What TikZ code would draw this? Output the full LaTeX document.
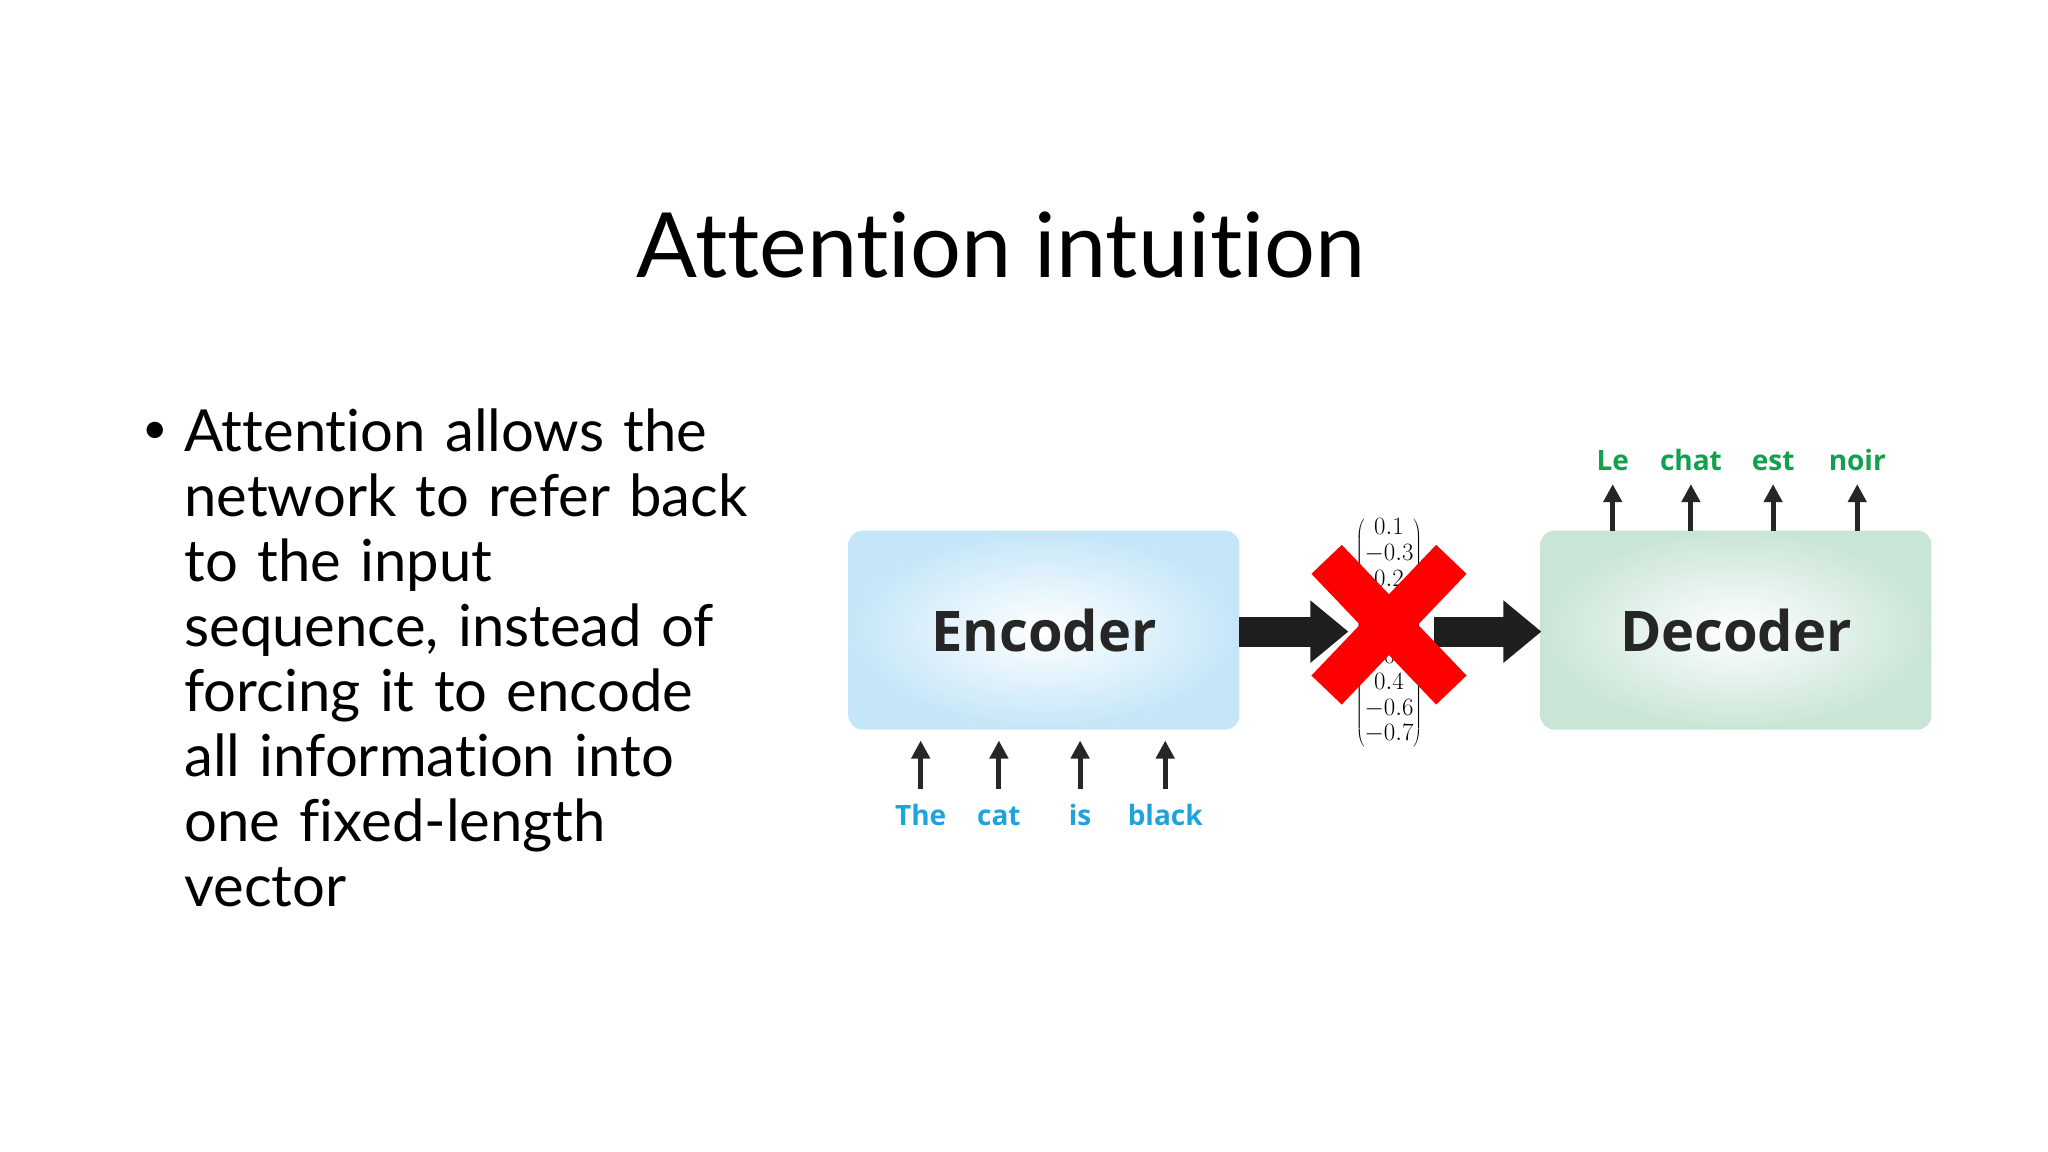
\documentclass[tikz,border=0pt]{standalone}
\usepackage{fontspec}
\setmainfont{Lato}[Ligatures={NoCommon}]
\newfontfamily\bfs{Open Sans}
\usetikzlibrary{arrows.meta}
\definecolor{inblue}{HTML}{1FA3DC}
\definecolor{outgreen}{HTML}{12A04E}
\definecolor{encb}{HTML}{C4E6F8}
\definecolor{decg}{HTML}{C9E5D6}
\begin{document}
\begin{tikzpicture}[x=0.99pt,y=-0.99pt,
  box/.style={rounded corners=14pt,minimum width=391pt,minimum height=199pt,inner sep=0},
  small/.style={-{Triangle[length=18pt,width=18pt]},line width=5pt,black!85},
  big/.style={-{Triangle[length=38pt,width=60pt]},line width=30pt,black!88},
  word/.style={font=\bfs\bfseries\fontsize{28}{28}\selectfont,anchor=base}]
\useasboundingbox (0,0) rectangle (2068.7,1163.6);
\node[font=\fontsize{90}{90}\selectfont,anchor=base] (title) at (1011,280) {Attention intuition};
\node[font=\fontsize{58}{65}\selectfont,anchor=north west,align=left,text width=620pt,inner sep=0] (txt) at (186,413)
 {Attention allows the\\network to refer back\\to the input\\sequence, instead of\\forcing it to encode\\all information into\\one fixed-length\\vector};
\node[font=\fontsize{44}{44}\selectfont] (bul) at (157,437) {•};
\node[box,inner color=white,outer color=encb] (enc) at (1054.5,636.5) {};
\node[box,inner color=white,outer color=decg] (dec) at (1753.5,636.5) {};
\node[font=\bfs\bfseries\fontsize{56}{56}\selectfont,black!85] at (enc) {Encoder};
\node[font=\bfs\bfseries\fontsize{56}{56}\selectfont,black!85] at (dec) {Decoder};
\node[font=\fontsize{24}{28}\selectfont,inner sep=0] (vec) at (1403,639)
 {$\renewcommand{\arraystretch}{0.92}\left(\begin{array}{@{}c@{}}0.1\\-0.3\\0.2\\0.5\\ -0.1\\-0.2\\0.4\\-0.6\\-0.7\end{array}\right)$};
\coordinate (a1) at (1252,638); \coordinate (a2) at (1362,638);
\coordinate (b1) at (1448,638); \coordinate (b2) at (1557,638);
\draw[big] (a1) -- (a2);
\draw[big] (b1) -- (b2);
\draw[red,line width=42pt] (1340,565) -- (1466,697) (1466,565) -- (1340,697);
\foreach \x/\w [count=\i] in {930/The,1009/cat,1091/is,1177/black}{
  \node[word,inblue] (in\i) at (\x,834) {\w};
  \draw[small] (in\i.north|-0,797) -- (in\i.north|-0,748);}
\foreach \x/\w [count=\i] in {1629/Le,1708/chat,1791/est,1876/noir}{
  \node[word,outgreen] (out\i) at (\x,475) {\w};
  \draw[small] (out\i.north|-0,536) -- (out\i.north|-0,489);}
\end{tikzpicture}
\end{document}
